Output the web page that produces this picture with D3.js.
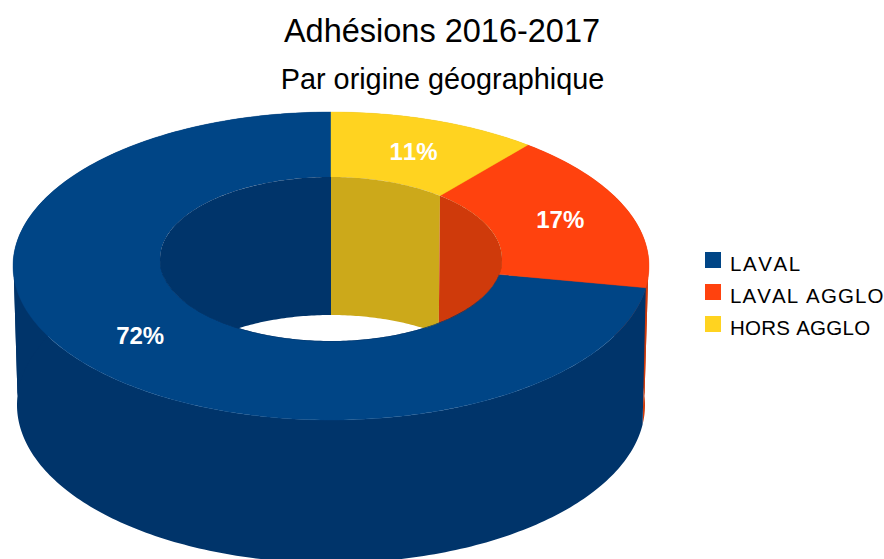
<!DOCTYPE html>
<html><head><meta charset="utf-8">
<script src="https://cdn.jsdelivr.net/npm/d3@7/dist/d3.min.js"></script>
<style>html,body{margin:0;padding:0;background:#fff}svg{display:block}text{font-family:"Liberation Sans",Arial,sans-serif;font-kerning:none}</style>
</head><body><svg id="c" width="884" height="559"></svg>
<script>
const title = "Adhésions 2016-2017";
const subtitle = "Par origine géographique";
const categories = ["LAVAL", "LAVAL AGGLO", "HORS AGGLO"];
const values = [72, 17, 11];
const faceColors = ["#004586", "#ff420e", "#ffd320"];
const wallColors = ["#00346a", "#cf3a0b", "#cca91a"];
const legendTracking = [1.6, 1.1, 0.25];

const svg = d3.select("#c");

// Projected rings (perspective: the true centre sits above the ellipse centre)
const cx = 331;
const topOuter = {cx, cy:266, rx:318, ry:154}, topInner = {cx, cy:259, rx:171, ry:82};
const lowOuter = {cx, cy:405, rx:314, ry:158}, lowInner = {cx, cy:396, rx:169, ry:81};
const topC = [cx, 259], lowC = [cx, 396];

function onRing(inner, a){ return [inner.cx + inner.rx*Math.sin(a), inner.cy - inner.ry*Math.cos(a)]; }
function rayHit(outer, inner, c, a){
  const dx = inner.rx*Math.sin(a), dy = -inner.ry*Math.cos(a), oy = c[1]-outer.cy;
  const A = dx*dx/(outer.rx*outer.rx) + dy*dy/(outer.ry*outer.ry);
  const B = 2*oy*dy/(outer.ry*outer.ry);
  const C = oy*oy/(outer.ry*outer.ry) - 1;
  const t = (-B + Math.sqrt(B*B - 4*A*C))/(2*A);
  return [c[0]+t*dx, c[1]+t*dy];
}
const topOuterPt = a => rayHit(topOuter, topInner, topC, a);
const lowOuterPt = a => rayHit(lowOuter, lowInner, lowC, a);
const topInnerPt = a => onRing(topInner, a);
const lowInnerPt = a => onRing(lowInner, a);

const pie = d3.pie().sort(null).startAngle(2*Math.PI).endAngle(0);
const arcs = pie(values).map((d,i)=>({i, a0:Math.min(d.startAngle,d.endAngle), a1:Math.max(d.startAngle,d.endAngle)}));
const line = d3.line();
function samples(a0,a1){ const n=Math.max(8,Math.ceil((a1-a0)*60)); const s=d3.scaleLinear().domain([0,n]).range([a0,a1]); return d3.range(n+1).map(s); }
function band(fa, fb, a0, a1){ const s=samples(a0,a1); return line(s.map(fa).concat(s.slice().reverse().map(fb)))+"Z"; }
// Walls fold back on themselves at the silhouette: split them there so the fill does not cancel
function split(d){
  const cuts=[d.a0,...[Math.PI/2,3*Math.PI/2].filter(c=>c>d.a0&&c<d.a1),d.a1];
  return d3.pairs(cuts).map(([a0,a1])=>({i:d.i,a0,a1}));
}
const wallParts = [2,1,0].flatMap(i=>split(arcs[i]));

// Outer wall
svg.append("g").selectAll("path").data(wallParts).join("path")
  .attr("d", d=>band(topOuterPt, lowOuterPt, d.a0, d.a1))
  .attr("fill", d=>wallColors[d.i]);

// Top face
svg.append("g").selectAll("path").data(arcs).join("path")
  .attr("d", d=>band(topOuterPt, topInnerPt, d.a0, d.a1))
  .attr("fill", d=>faceColors[d.i])
  .attr("stroke", d=>faceColors[d.i]).attr("stroke-width",0.4);

// Hole and inner wall
svg.append("defs").append("clipPath").attr("id","hole").append("ellipse")
  .attr("cx",topInner.cx).attr("cy",topInner.cy).attr("rx",topInner.rx+0.6).attr("ry",topInner.ry+0.6);
svg.append("ellipse").attr("cx",topInner.cx).attr("cy",topInner.cy).attr("rx",topInner.rx).attr("ry",topInner.ry).attr("fill","#fff");
svg.append("g").attr("clip-path","url(#hole)").selectAll("path").data(wallParts).join("path")
  .attr("d", d=>band(topInnerPt, lowInnerPt, d.a0, d.a1))
  .attr("fill", d=>wallColors[d.i]);

// Percent labels
svg.append("g").selectAll("text").data(arcs).join("text")
  .attr("x", d=>{const m=(d.a0+d.a1)/2; return (topOuterPt(m)[0]+topInnerPt(m)[0])/2+1.5;})
  .attr("y", d=>{const m=(d.a0+d.a1)/2; return (topOuterPt(m)[1]+topInnerPt(m)[1])/2;})
  .attr("dy","0.36em").attr("text-anchor","middle")
  .attr("font-size",24).attr("font-weight","bold").attr("fill","#fff")
  .text(d=>Math.round(values[d.i])+"%");

// Titles
svg.append("text").attr("x",442).attr("y",41.5).attr("text-anchor","middle").attr("font-size",32.5).attr("fill","#000").text(title);
svg.append("text").attr("x",442.5).attr("y",89).attr("text-anchor","middle").attr("font-size",28.8).attr("fill","#000").text(subtitle);

// Legend
const legY = d3.scalePoint().domain(categories).range([252,316]);
const leg = svg.append("g").selectAll("g").data(categories).join("g")
  .attr("transform", d=>`translate(705,${legY(d)})`);
leg.append("rect").attr("width",16).attr("height",16).attr("fill",(d,i)=>faceColors[i]);
leg.append("text").attr("x",25).attr("y",18.5).attr("font-size",20.5).attr("fill","#000")
  .attr("letter-spacing",(d,i)=>legendTracking[i]).text(d=>d);
</script></body></html>
